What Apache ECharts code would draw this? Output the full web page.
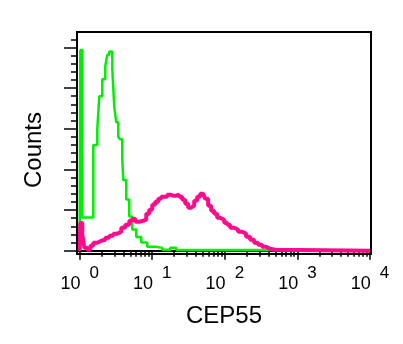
<!DOCTYPE html>
<html>
<head>
<meta charset="utf-8">
<script src="https://cdn.jsdelivr.net/npm/echarts@6/dist/echarts.min.js"></script>
<style>
html,body{margin:0;padding:0;background:#fff;}
#chart{width:403px;height:344px;}
</style>
</head>
<body>
<div id="chart"></div>
<script>
// Fluorescence intensity (CEP55) and counts
const greenX = [1.00, 1.022, 1.089, 1.543, 1.752, 1.866, 2.052, 2.257, 2.404, 2.562, 2.818, 3.001, 3.197, 3.407, 3.629, 3.867, 3.992, 4.389, 4.827, 5.307, 6.025, 7.059, 8.536, 11.0, 13.73, 17.69, 21.39, 358.4, 10000];
const greenY = [0, 247, 41, 130, 150, 190, 211, 227, 241, 245, 223, 177, 158, 140, 137, 112, 87, 63, 42, 26, 17, 10, 5, 3.7, 1.2, 3.7, 1, 0.5, 0.5];

const magentaX = [1.00, 1.022, 1.089, 1.160, 1.276, 1.404, 1.543, 1.752, 1.988, 2.257, 2.562, 2.908, 3.301, 3.746, 4.253, 4.827, 5.307, 5.836, 6.625, 7.520, 8.270, 9.094, 10.0, 11.0, 12.09, 13.30, 14.63, 16.08, 17.69, 19.45, 21.39, 23.52, 25.87, 28.44, 31.28, 34.40, 37.82, 41.59, 45.74, 50.29, 53.58, 58.92, 64.80, 71.26, 78.37, 86.17, 97.8, 107.6, 118.3, 134.3, 152.4, 173.0, 196.3, 222.8, 252.9, 287.1, 325.9, 369.9, 419.9, 491.8, 10000];
const magentaY = [0, 34.5, 19.7, 3.7, 1.2, 6.2, 9.9, 12.3, 13.5, 16.0, 18.5, 21, 23.4, 28.3, 32, 36.9, 39.4, 35.7, 36.9, 38.2, 45.6, 50.5, 56.7, 60.3, 64, 66.5, 66.5, 69, 67.7, 67.7, 69, 66.5, 62.8, 57.9, 53, 55.4, 61.6, 66.5, 70.2, 69, 64, 55.4, 49.3, 45.6, 40.6, 38.2, 34.5, 32, 28.3, 25.9, 23.4, 21, 17.2, 13.5, 9.9, 7.4, 4.9, 2.5, 1.2, 0, 0];

const xMajorTicks = [1, 10, 100, 1000, 10000];
const xMinorTicks = [2,3,4,5,6,7,8,9,20,30,40,50,60,70,80,90,200,300,400,500,600,700,800,900,2000,3000,4000,5000,6000,7000,8000,9000];
const yMajorTicks = [0, 50, 100, 150, 200, 250];
const yMinorTicks = [10,20,30,40,60,70,80,90,110,120,130,140,160,170,180,190,210,220,230,240,260];

const FONT = 'Arial, "Liberation Sans", sans-serif';

const chart = echarts.init(document.getElementById('chart'), null, {renderer: 'canvas'});
const pair = (xs, ys) => xs.map((x, i) => [x, ys[i]]);

chart.setOption({
  animation: false,
  backgroundColor: '#fff',
  grid: {
    left: 77, right: 32, top: 32, bottom: 90,
    show: true, borderColor: '#000', borderWidth: 2, backgroundColor: 'transparent'
  },
  graphic: [
    {
      type: 'text', x: 34.5, y: 150, rotation: Math.PI / 2,
      style: {text: 'Counts', fontSize: 24, fontFamily: FONT, fill: '#000', align: 'center', verticalAlign: 'middle'}
    }
  ],
  xAxis: [
    {
      type: 'log', logBase: 10, min: 0.92, max: 10300, position: 'bottom',
      axisLine: {show: true, lineStyle: {color: '#000', width: 2}},
      axisTick: {show: true, customValues: xMajorTicks, length: 9, lineStyle: {color: '#000', width: 1.5}},
      axisLabel: {
        show: true, customValues: xMajorTicks, margin: 11,
        formatter: v => '{b|10}{e|' + Math.round(Math.log10(v)) + '}',
        rich: {
          b: {fontSize: 18, fontFamily: FONT, color: '#000', verticalAlign: 'bottom', lineHeight: 28},
          e: {fontSize: 17, fontFamily: FONT, color: '#000', verticalAlign: 'top', lineHeight: 17, padding: [0, 0, 0, 9]}
        }
      },
      splitLine: {show: false},
      minorTick: {show: false},
      name: 'CEP55', nameLocation: 'middle', nameGap: 50,
      nameTextStyle: {fontSize: 24, fontFamily: FONT, color: '#000'}
    },
    {
      type: 'log', logBase: 10, min: 0.92, max: 10300, position: 'bottom',
      axisLine: {show: false},
      axisTick: {show: true, customValues: xMinorTicks, length: 6, lineStyle: {color: '#000', width: 1.5}},
      axisLabel: {show: false},
      splitLine: {show: false}
    }
  ],
  yAxis: [
    {
      type: 'value', min: -4, max: 269, position: 'left',
      axisLine: {show: true, lineStyle: {color: '#000', width: 2}},
      axisTick: {show: true, customValues: yMajorTicks, length: 13, lineStyle: {color: '#000', width: 1.5}},
      axisLabel: {show: false},
      splitLine: {show: false}
    },
    {
      type: 'value', min: -4, max: 269, position: 'left',
      axisLine: {show: false},
      axisTick: {show: true, customValues: yMinorTicks, length: 6, lineStyle: {color: '#000', width: 1.5}},
      axisLabel: {show: false},
      splitLine: {show: false}
    }
  ],
  series: [
    {
      type: 'line', step: 'end', xAxisIndex: 0, yAxisIndex: 0,
      data: pair(greenX, greenY), symbol: 'none',
      lineStyle: {color: '#00ee00', width: 2.5}
    },
    {
      type: 'line', step: 'end', xAxisIndex: 0, yAxisIndex: 0,
      data: pair(magentaX, magentaY), symbol: 'none',
      lineStyle: {color: '#ff0a8c', width: 4}
    }
  ]
});
</script>
</body>
</html>
